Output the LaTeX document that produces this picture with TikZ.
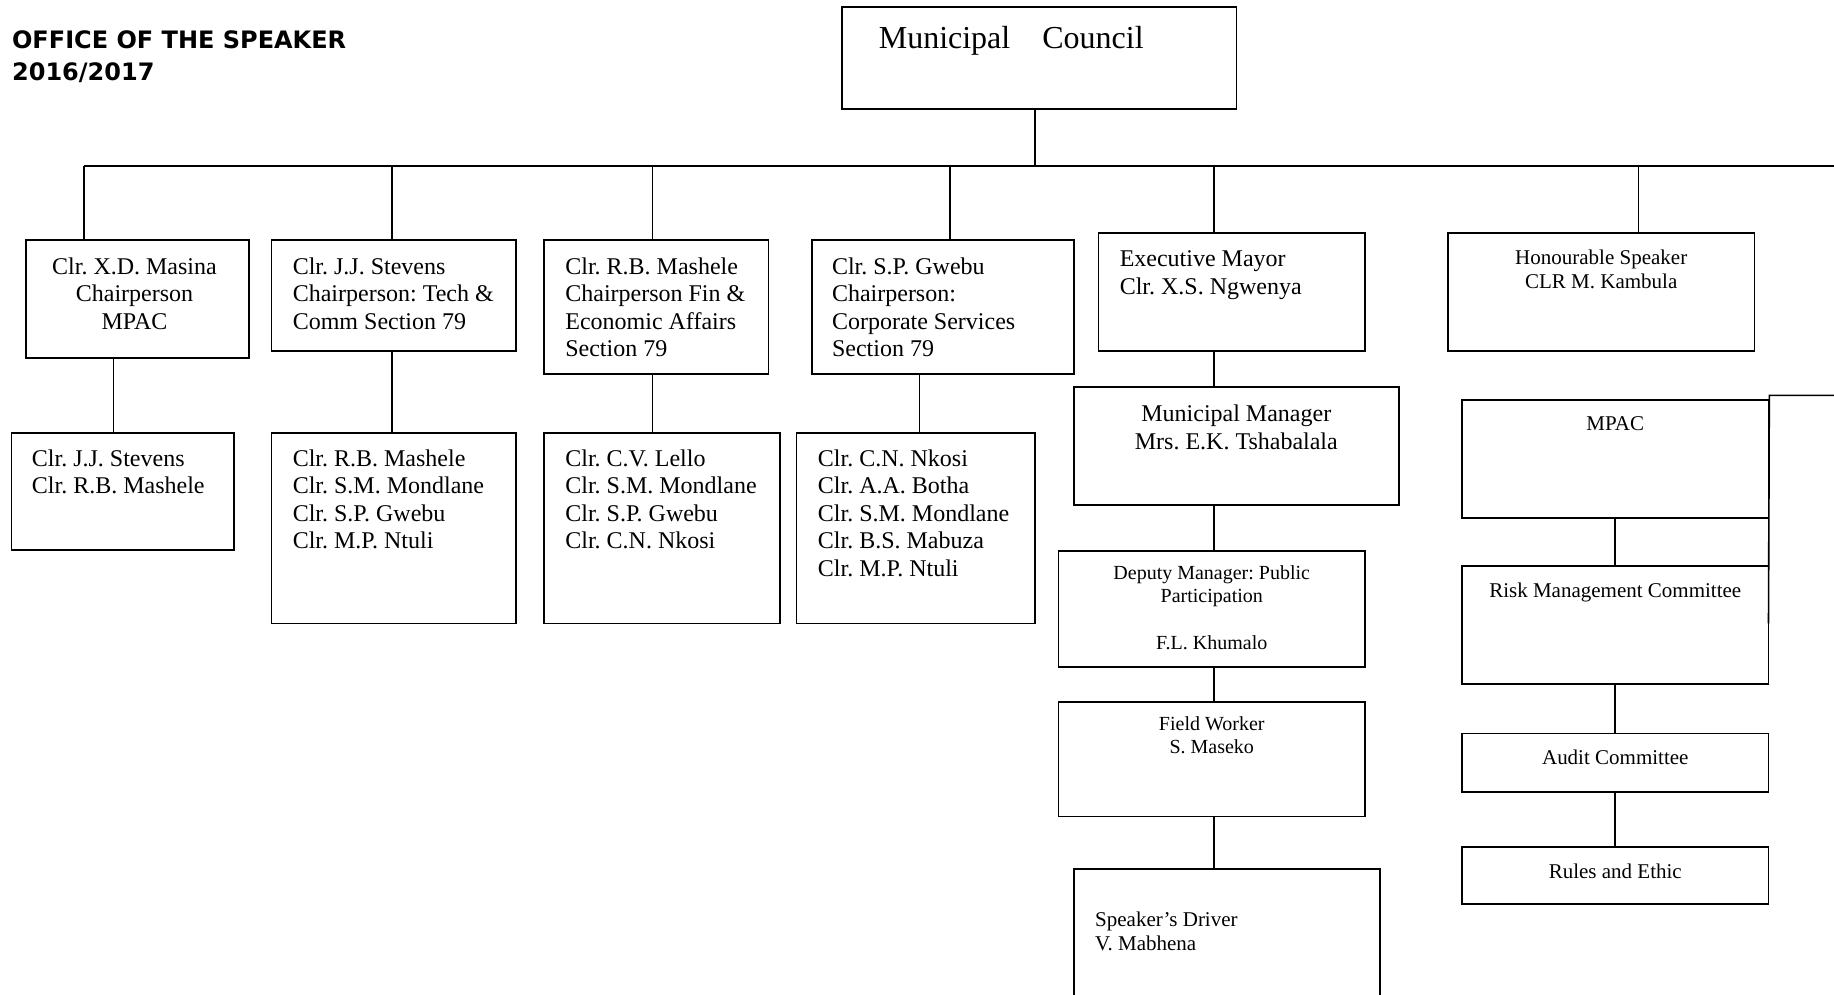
\documentclass[tikz,border=0pt]{standalone}
\usepackage{fontspec}
\setmainfont{Liberation Serif}
\newfontfamily\headfont{DejaVu Sans}
\frenchspacing
\begin{document}
\begin{tikzpicture}[x=0.58485pt, y=-0.58485pt,
  box/.style={draw, line width=0.8pt, rectangle, inner sep=0pt},
  wh/.style 2 args={minimum width=#1*0.58485pt, minimum height=#2*0.58485pt},
  link/.style={line width=0.8pt},
  txt/.style={inner sep=0pt, align=left, font=\fontsize{12}{13.75}\selectfont},
  ctxt/.style={inner sep=0pt, align=center, font=\fontsize{12}{13.75}\selectfont},
  small/.style={inner sep=0pt, align=center, font=\fontsize{10.5}{12.3}\selectfont},
  tiny/.style={inner sep=0pt, align=center, font=\fontsize{10}{11.7}\selectfont},
  head/.style={inner sep=0pt, align=left, font=\headfont\bfseries\fontsize{12}{15.8}\selectfont}
]
\clip (0,0) rectangle (1568,850);

% heading
\node[head, anchor=north west] (title) at (10,26) {OFFICE OF THE SPEAKER\\2016/2017};

% council
\node[box, wh={337}{87}] (mc) at (888.5,49.5) {};
\node[inner sep=0pt, anchor=north west, font=\fontsize{16}{18}\selectfont] (mct) at (751,22) {Municipal\quad Council};

% first row
\node[box, wh={191}{101}] (b1) at (117.5,255.5) {};
\node[box, wh={209}{95}]  (b2) at (336.5,252.5) {};
\node[box, wh={192}{115}] (b3) at (561,262.5) {};
\node[box, wh={224}{115}] (b4) at (806,262.5) {};
\node[box, wh={228}{101}] (may) at (1053,249.5) {};
\node[box, wh={262}{101}] (spk) at (1369,249.5) {};

\node[ctxt, anchor=north] (b1t) at (115,220) {Clr. X.D. Masina\\Chairperson\\MPAC};
\node[txt, anchor=north west] (b2t) at (250,220) {Clr. J.J. Stevens\\Chairperson: Tech \&\\Comm Section 79};
\node[txt, anchor=north west] (b3t) at (483,220) {Clr. R.B. Mashele\\Chairperson Fin \&\\Economic Affairs\\Section 79};
\node[txt, anchor=north west] (b4t) at (711,220) {Clr. S.P. Gwebu\\Chairperson:\\Corporate Services\\Section 79};
\node[txt, anchor=north west] (mayt) at (957,214) {Executive Mayor\\Clr. X.S. Ngwenya};
\node[small, anchor=north] (spkt) at (1369,213) {Honourable Speaker\\CLR M. Kambula};

% second row
\node[box, wh={190}{100}] (r1) at (105,420) {};
\node[box, wh={209}{163}] (r2) at (336.5,451.5) {};
\node[box, wh={202}{163}] (r3) at (566,451.5) {};
\node[box, wh={204}{163}] (r4) at (783,451.5) {};

\node[txt, anchor=north west] (r1t) at (27,384) {Clr. J.J. Stevens\\Clr. R.B. Mashele};
\node[txt, anchor=north west] (r2t) at (250,384) {Clr. R.B. Mashele\\Clr. S.M. Mondlane\\Clr. S.P. Gwebu\\Clr. M.P. Ntuli};
\node[txt, anchor=north west] (r3t) at (483,384) {Clr. C.V. Lello\\Clr. S.M. Mondlane\\Clr. S.P. Gwebu\\Clr. C.N. Nkosi};
\node[txt, anchor=north west] (r4t) at (699,384) {Clr. C.N. Nkosi\\Clr. A.A. Botha\\Clr. S.M. Mondlane\\Clr. B.S. Mabuza\\Clr. M.P. Ntuli};

% mayor column
\node[box, wh={278}{101}] (mm)  at (1057,381.5) {};
\node[box, wh={262}{99}]  (dep) at (1036,520.5) {};
\node[box, wh={262}{98}]  (fw)  at (1036,649) {};
\node[box, wh={262}{127}] (drv) at (1049,806.5) {};

\node[ctxt, anchor=north] (mmt) at (1057,346) {Municipal Manager\\Mrs. E.K. Tshabalala};
\node[tiny, anchor=north] (dept) at (1036,483) {Deputy Manager: Public\\Participation\\[11.7pt]F.L. Khumalo};
\node[tiny, anchor=north] (fwt) at (1036,612) {Field Worker\\S. Maseko};
\node[small, align=left, anchor=north west] (drvt) at (936,779) {Speaker’s Driver\\V. Mabhena};

% speaker column
\node[box, wh={262}{101}] (mpac) at (1381,392.5) {};
\node[box, wh={262}{101}] (risk) at (1381,534.5) {};
\node[box, wh={262}{50}]  (aud)  at (1381,652) {};
\node[box, wh={262}{49}]  (rul)  at (1381,748.5) {};

\node[small, anchor=north] (mpact) at (1381,356) {MPAC};
\node[small, anchor=north] (riskt) at (1381,498) {Risk Management Committee};
\node[small, anchor=north] (audt)  at (1381,641) {Audit Committee};
\node[small, anchor=north] (rult)  at (1381,738) {Rules and Ethic};

% connector positions
\coordinate (d0) at (885,142);
\coordinate (barL) at (72,142);
\coordinate (barR) at (1568,142);
\coordinate (d2) at (335,142);
\coordinate (d3) at (558,142);
\coordinate (d4) at (812,142);
\coordinate (d5) at (1038,142);
\coordinate (d6) at (1401,142);
\coordinate (k1) at (97,0);
\coordinate (k4) at (786,0);
\coordinate (edgeR) at (1568,338);
\coordinate (sideEnd) at (1512,533);

% connectors
\draw[link] (mc.south -| d0) -- (d0);
\draw[link] (barL) -- (barR);
\draw[link] (barL) -- (b1.north -| barL);
\draw[link] (d2) -- (b2.north -| d2);
\draw[link] (d3) -- (b3.north -| d3);
\draw[link] (d4) -- (b4.north -| d4);
\draw[link] (d5) -- (may.north -| d5);
\draw[link] (d6) -- (spk.north -| d6);

\draw[link] (b1.south -| k1) -- (r1.north -| k1);
\draw[link] (b2.south -| d2) -- (r2.north -| d2);
\draw[link] (b3.south -| d3) -- (r3.north -| d3);
\draw[link] (b4.south -| k4) -- (r4.north -| k4);

\draw[link] (may.south -| d5) -- (mm.north -| d5);
\draw[link] (mm.south -| d5) -- (dep.north -| d5);
\draw[link] (dep.south -| d5) -- (fw.north -| d5);
\draw[link] (fw.south -| d5) -- (drv.north -| d5);

\draw[link] (mpac.south) -- (risk.north);
\draw[link] (risk.south) -- (aud.north);
\draw[link] (aud.south) -- (rul.north);

\draw[link] (edgeR) -- (mpac.north east |- edgeR) -- (sideEnd);
\end{tikzpicture}
\end{document}
